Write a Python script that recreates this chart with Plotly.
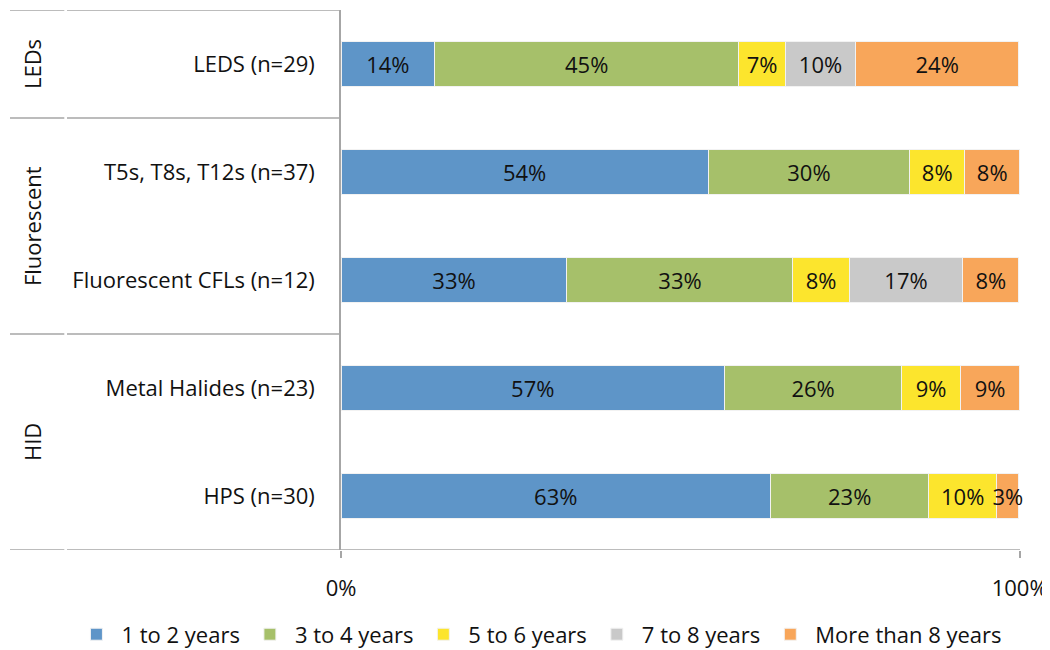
import plotly.graph_objects as go

# ── Data ─────────────────────────────────────────────────────────────────────
categories = [
    "LEDS (n=29)",
    "T5s, T8s, T12s (n=37)",
    "Fluorescent CFLs (n=12)",
    "Metal Halides (n=23)",
    "HPS (n=30)",
]
groups = ["LEDs", "Fluorescent", "HID"]
group_spans = [(0, 0), (1, 2), (3, 4)]  # category index range per group

series_names = ["1 to 2 years", "3 to 4 years", "5 to 6 years", "7 to 8 years", "More than 8 years"]
yrs_1_2 = [13.8, 54.1, 33.3, 56.52, 63.3]
yrs_3_4 = [44.8, 29.7, 33.3, 26.08, 23.3]
yrs_5_6 = [6.9, 8.1, 8.3, 8.7, 10.0]
yrs_7_8 = [10.3, None, 16.7, None, None]
yrs_8_plus = [24.1, 8.1, 8.3, 8.7, 3.3]
series_values = [yrs_1_2, yrs_3_4, yrs_5_6, yrs_7_8, yrs_8_plus]

tick_vals = [0, 100]
tick_text = ["0%", "100%"]

# ── Style ────────────────────────────────────────────────────────────────────
colors = ["#5E95C8", "#A6C06A", "#FCE52D", "#C9C9C9", "#F8A65A"]
FONT = "Open Sans, Calibri, sans-serif"
FSIZE = 22
TXT = "#111111"
GRID = "#A6A6A6"

fig = go.Figure()

for name, vals, col in zip(series_names, series_values, colors):
    fig.add_trace(
        go.Bar(
            y=categories,
            x=vals,
            name=name,
            orientation="h",
            marker={"color": col, "line": {"color": "#F2F2F2", "width": 1}},
            text=[f"{v:.0f}%" if v else "" for v in vals],
            textposition="inside",
            insidetextanchor="middle",
            textangle=0,
            constraintext="none",
            cliponaxis=False,
            textfont={"family": FONT, "size": FSIZE, "color": TXT},
        )
    )

# ── Left-side table lines and group labels ───────────────────────────────────
x_left = -0.4875   # paper coords, left edge of the label table
x_split = -0.4055  # small break between group column and category column
x_axis = 0.0
shapes = []
for b in [-0.5, 0.5, 2.5, 4.5]:
    for x0, x1 in [(x_left, x_split - 0.002), (x_split + 0.002, x_axis)]:
        shapes.append(
            dict(type="line", xref="paper", yref="y", x0=x0, x1=x1, y0=b, y1=b,
                 line={"color": GRID, "width": 1.5})
        )
# bottom axis line under the plot area
shapes.append(dict(type="line", xref="paper", yref="y", x0=x_axis, x1=1, y0=4.5, y1=4.5,
                   line={"color": GRID, "width": 1.5}))
fig.update_layout(shapes=shapes)

for g, (a, b) in zip(groups, group_spans):
    fig.add_annotation(
        x=-0.455, xref="paper", y=(a + b) / 2, yref="y",
        text=g, textangle=-90, showarrow=False,
        font={"family": FONT, "size": FSIZE, "color": TXT},
        xanchor="center", yanchor="middle",
    )

# the page body adds an 8px margin; the legend runs slightly past the window bottom
fig.update_layout(
    barmode="stack",
    bargap=0.59,
    width=1042,
    height=648,
    margin={"l": 333, "r": 30, "t": 2, "b": 105},
    paper_bgcolor="white",
    plot_bgcolor="white",
    font={"family": FONT, "size": FSIZE, "color": TXT},
    showlegend=True,
    legend={
        "orientation": "h",
        "x": -0.397,
        "xanchor": "left",
        "y": -0.193,
        "yanchor": "bottom",
        "font": {"family": FONT, "size": FSIZE, "color": TXT},
        "itemwidth": 40,
        "traceorder": "normal",
    },
    xaxis={
        "range": [0, 100.05],
        "tickvals": tick_vals,
        "ticktext": tick_text,
        "ticks": "outside",
        "ticklen": 7,
        "tickcolor": GRID,
        "tickwidth": 1.5,
        "ticklabelstandoff": 12,
        "showgrid": False,
        "zeroline": False,
        "showline": False,
        "automargin": False,
    },
    yaxis={
        "range": [4.5, -0.5],
        "showgrid": False,
        "zeroline": False,
        "showline": True,
        "linecolor": GRID,
        "linewidth": 1.5,
        "ticks": "",
        "ticklabelstandoff": 20,
        "automargin": False,
    },
)

fig.write_html("out.html")
